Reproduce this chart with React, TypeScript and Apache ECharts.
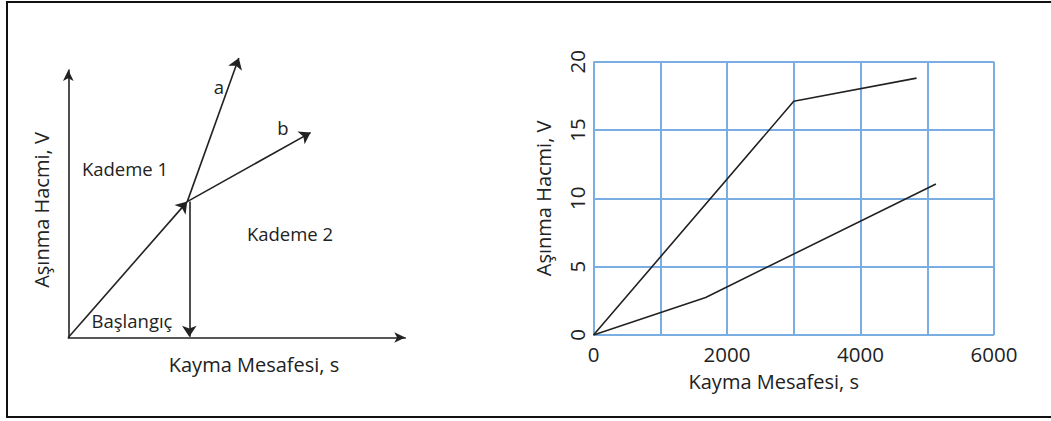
import React, { useEffect, useRef } from "react";
import * as echarts from "echarts";

// ---------- Right chart data (Kayma Mesafesi s, Aşınma Hacmi V) ----------
const upperCurve: [number, number][] = [
  [0, 0],
  [3000, 17.1],
  [4840, 18.8],
];
const lowerCurve: [number, number][] = [
  [0, 0],
  [1680, 2.75],
  [5130, 11.05],
];
const xTickLabels = ["0", "2000", "4000", "6000"];
const yTickLabels = ["0", "5", "10", "15", "20"];

// ---------- Left schematic (arbitrary units 0..100) ----------
const breakPoint: [number, number] = [35.3, 50.8];
const baslangicSeg: [number, number][] = [[0, 0], breakPoint];
const segA: [number, number][] = [breakPoint, [50.6, 104.5]];
const segB: [number, number][] = [breakPoint, [71.9, 76.6]];
const segDown: [number, number][] = [[35.9, 50.8], [35.9, 0.3]];

const schematicLabels = [
  { text: "a", x: 219, y: 86 },
  { text: "b", x: 283, y: 127 },
  { text: "Kademe 1", x: 125, y: 168 },
  { text: "Kademe 2", x: 290, y: 233 },
  { text: "Başlangıç", x: 132, y: 320 },
];

const FONT = "'Open Sans', 'DejaVu Sans', sans-serif";
const TEXT_COLOR = "#222";
const GRID_BLUE = "#7aaee2";

export default function App() {
  const ref = useRef<HTMLDivElement>(null);

  useEffect(() => {
    if (!ref.current) return;
    const chart = echarts.init(ref.current, undefined, { renderer: "svg" });

    const lineStyle = { color: "#222", width: 1.6 };
    const arrowSeries = (data: [number, number][]) => ({
      type: "lines",
      coordinateSystem: "cartesian2d",
      xAxisIndex: 0,
      yAxisIndex: 0,
      polyline: false,
      clip: false,
      symbol: ["none", "arrow"],
      symbolSize: [8, 11],
      lineStyle: { ...lineStyle, opacity: 1 },
      silent: true,
      data: [{ coords: data }],
    });

    chart.setOption({
      animation: false,
      textStyle: { fontFamily: FONT },
      grid: [
        { left: 68.3, top: 70, width: 337, height: 267.5, containLabel: false },
        { left: 593.5, top: 61.7, width: 400.5, height: 273.3, containLabel: false },
      ],
      xAxis: [
        {
          type: "value",
          gridIndex: 0,
          min: 0,
          max: 100,
          axisLine: {
            show: true,
            symbol: ["none", "arrow"],
            symbolSize: [8, 11],
            lineStyle: { color: "#222", width: 1.6 },
          },
          axisTick: { show: false },
          axisLabel: { show: false },
          splitLine: { show: false },
        },
        {
          type: "value",
          gridIndex: 1,
          min: 0,
          max: 6000,
          interval: 1000,
          name: "Kayma Mesafesi, s",
          nameLocation: "middle",
          nameGap: 36,
          nameTextStyle: {
            fontSize: 20,
            color: TEXT_COLOR,
            fontFamily: FONT,
            padding: [0, 40, 0, 0],
          },
          axisLine: { show: false },
          axisTick: { show: false },
          axisLabel: {
            fontSize: 20.5,
            color: TEXT_COLOR,
            fontFamily: FONT,
            margin: 8,
            formatter: (v: number) => {
              const s = String(v);
              return xTickLabels.includes(s) ? s : "";
            },
          },
          splitLine: { show: true, lineStyle: { color: GRID_BLUE, width: 2 } },
        },
      ],
      yAxis: [
        {
          type: "value",
          gridIndex: 0,
          min: 0,
          max: 100,
          axisLine: {
            show: true,
            symbol: ["none", "arrow"],
            symbolSize: [8, 11],
            lineStyle: { color: "#222", width: 1.6 },
          },
          axisTick: { show: false },
          axisLabel: { show: false },
          splitLine: { show: false },
        },
        {
          type: "value",
          gridIndex: 1,
          min: 0,
          max: 20,
          interval: 5,
          name: "Aşınma Hacmi, V",
          nameLocation: "middle",
          nameGap: 40,
          nameTextStyle: { fontSize: 20, color: TEXT_COLOR, fontFamily: FONT },
          axisLine: { show: false },
          axisTick: { show: false },
          axisLabel: {
            fontSize: 20.5,
            color: TEXT_COLOR,
            fontFamily: FONT,
            rotate: 90,
            margin: 6,
            formatter: (v: number) => {
              const s = String(v);
              return yTickLabels.includes(s) ? s : "";
            },
          },
          splitLine: { show: true, lineStyle: { color: GRID_BLUE, width: 2 } },
        },
      ],
      graphic: [
        {
          type: "rect",
          shape: { x: 7, y: 2, width: 1060, height: 415 },
          style: { fill: "none", stroke: "#111", lineWidth: 2 },
          silent: true,
          z: 100,
        },
        ...schematicLabels.map((l) => ({
          type: "text",
          x: l.x,
          y: l.y,
          style: {
            text: l.text,
            fontSize: 18.5,
            fontFamily: FONT,
            fill: TEXT_COLOR,
            textAlign: "center",
            textVerticalAlign: "middle",
          },
        })),
        {
          type: "text",
          x: 254,
          y: 364,
          style: {
            text: "Kayma Mesafesi, s",
            fontSize: 20,
            fontFamily: FONT,
            fill: TEXT_COLOR,
            textAlign: "center",
            textVerticalAlign: "middle",
          },
        },
        {
          type: "text",
          x: 41,
          y: 210,
          rotation: Math.PI / 2,
          style: {
            text: "Aşınma Hacmi, V",
            fontSize: 20,
            fontFamily: FONT,
            fill: TEXT_COLOR,
            textAlign: "center",
            textVerticalAlign: "middle",
          },
        },
      ],
      series: [
        arrowSeries(baslangicSeg),
        arrowSeries(segA),
        arrowSeries(segB),
        arrowSeries(segDown),
        {
          type: "line",
          xAxisIndex: 1,
          yAxisIndex: 1,
          data: upperCurve,
          showSymbol: false,
          symbol: "none",
          lineStyle: { color: "#222", width: 1.6 },
          silent: true,
        },
        {
          type: "line",
          xAxisIndex: 1,
          yAxisIndex: 1,
          data: lowerCurve,
          showSymbol: false,
          symbol: "none",
          lineStyle: { color: "#222", width: 1.6 },
          silent: true,
        },
      ],
    });

    return () => chart.dispose();
  }, []);

  return (
    <div
      ref={ref}
      style={{ position: "fixed", left: 0, top: 0, width: 1051, height: 421, background: "#fff" }}
    />
  );
}
